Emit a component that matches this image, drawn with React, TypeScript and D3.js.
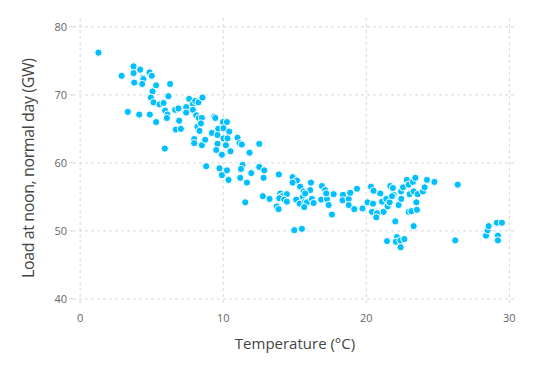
import React from "react";
import * as d3 from "d3";

const temperature: number[] = [
  1.28, 2.9, 3.73, 3.73, 3.78, 4.2, 4.38, 4.42, 4.34, 4.85, 5.01, 5.31, 5.06, 4.94, 5.13, 5.55, 6.29, 6.17, 5.83, 5.94,
  6.1, 6.06, 3.33, 4.13, 4.87, 5.31, 5.92, 6.64, 6.87, 6.92, 6.69, 7.04, 7.41, 7.41, 7.62, 7.88, 7.88, 8.04, 8.27, 8.55,
  8.11, 8.3, 8.51, 8.2, 8.44, 8.34, 7.97, 7.97, 8.51, 8.74, 9.21, 9.37, 9.45, 9.65, 9.6, 9.6, 9.51, 9.98, 10.26, 10.02,
  10.42, 10.02, 10.3, 10.19, 9.91, 10.51, 11.0, 11.14, 11.3, 11.84, 12.52, 8.81, 9.74, 10.26, 9.91, 10.37, 11.35, 11.24, 11.19, 11.96,
  11.66, 12.52, 12.87, 12.82, 13.89, 11.54, 12.77, 13.24, 13.99, 14.1, 14.45, 13.92, 14.27, 14.45, 13.75, 13.87, 14.85, 15.15, 14.85, 15.38,
  16.13, 15.62, 16.08, 15.1, 15.34, 15.57, 15.73, 15.85, 15.66, 16.2, 16.32, 16.9, 17.13, 16.85, 17.25, 17.37, 17.6, 17.72, 18.37, 18.34,
  18.77, 18.77, 18.88, 19.35, 19.16, 14.97, 15.5, 19.74, 20.09, 20.33, 20.51, 20.98, 20.47, 20.4, 20.75, 20.7, 21.1, 21.21, 21.4, 21.49,
  21.63, 21.68, 21.86, 21.91, 21.8, 22.26, 22.45, 22.43, 22.57, 22.84, 22.96, 23.03, 23.26, 23.43, 23.31, 23.59, 23.5, 22.96, 23.15, 23.54,
  23.96, 24.08, 24.24, 24.76, 26.39, 22.03, 23.31, 21.45, 22.14, 22.07, 22.38, 22.66, 22.4, 26.22, 28.37, 28.48, 28.55, 29.13, 29.48, 29.2,
  29.2, 15.73, 17.2,
];

const load: number[] = [
  76.2, 72.8, 74.2, 73.2, 71.8, 73.7, 72.5, 72.3, 71.6, 73.3, 72.8, 71.4, 70.5, 69.6, 68.9, 68.6, 71.6, 69.8, 68.8, 67.7,
  67.1, 66.6, 67.5, 67.1, 67.1, 66.0, 62.1, 67.8, 68.0, 66.2, 64.9, 65.0, 68.2, 67.4, 69.4, 68.7, 67.8, 69.1, 68.9, 69.6,
  67.0, 66.6, 66.6, 65.3, 65.8, 64.7, 63.5, 62.9, 62.6, 63.4, 64.4, 66.8, 66.6, 65.0, 64.1, 62.8, 61.9, 66.0, 66.0, 65.1,
  64.6, 63.6, 63.6, 62.6, 61.2, 61.7, 63.7, 62.9, 62.7, 61.5, 62.8, 59.5, 59.2, 58.9, 58.2, 57.5, 59.7, 59.1, 57.8, 58.5,
  57.1, 59.4, 58.9, 57.8, 58.3, 54.2, 55.1, 54.7, 55.5, 55.1, 55.4, 54.8, 54.6, 54.3, 53.6, 53.2, 57.9, 57.4, 57.1, 56.5,
  57.1, 55.8, 56.0, 54.6, 54.0, 55.0, 54.3, 54.2, 53.5, 54.7, 54.1, 56.6, 56.0, 54.6, 54.7, 53.8, 52.4, 55.4, 55.3, 54.5,
  54.7, 53.8, 55.6, 56.2, 53.2, 50.1, 50.3, 53.3, 54.2, 56.5, 55.9, 55.5, 54.0, 52.8, 52.6, 52.0, 54.3, 52.8, 54.7, 53.6,
  54.2, 56.6, 56.3, 55.3, 55.1, 53.8, 54.7, 55.8, 56.4, 57.5, 56.8, 55.4, 57.2, 57.8, 55.8, 55.4, 54.2, 52.8, 52.9, 53.1,
  55.8, 56.4, 57.5, 57.2, 56.8, 51.4, 50.7, 48.5, 49.1, 48.4, 48.6, 48.8, 47.6, 48.6, 49.3, 50.1, 50.7, 51.2, 51.2, 49.3,
  48.6, 55.5, 55.5,
];

const xTicks: number[] = [0, 10, 20, 30];
const yTicks: number[] = [40, 50, 60, 70, 80];

const W = 535;
const H = 378;

export default function App() {
  const x = d3.scaleLinear().domain([-0.5, 30.5]).range([73, 516.5]);
  const y = d3.scaleLinear().domain([39.4, 81.3]).range([303, 18]);
  const points = temperature.map((t, i) => ({ t, l: load[i] }));
  const gridColor = "#d6d6e4";
  const font = "'Open Sans', 'DejaVu Sans', sans-serif";

  return (
    <svg
      width={W}
      height={H}
      style={{ position: "absolute", left: 0, top: 0, background: "#fff" }}
      fontFamily={font}
    >
      {yTicks.map((v) => (
        <g key={"y" + v}>
          <line x1={73} x2={516.5} y1={y(v)} y2={y(v)} stroke={gridColor} strokeDasharray="3,3" strokeWidth={1} />
          <line x1={69} x2={73} y1={y(v)} y2={y(v)} stroke={gridColor} strokeWidth={1} />
          <text x={67} y={y(v)} dy="0.35em" textAnchor="end" fontSize={11} fill="#666">
            {v}
          </text>
        </g>
      ))}
      {xTicks.map((v) => (
        <g key={"x" + v}>
          <line x1={x(v)} x2={x(v)} y1={18} y2={303} stroke={gridColor} strokeDasharray="3,3" strokeWidth={1} />
          <text x={x(v)} y={318} dy="0.35em" textAnchor="middle" fontSize={11} fill="#666">
            {v}
          </text>
        </g>
      ))}
      {points.map((p, i) => (
        <circle key={i} cx={x(p.t)} cy={y(p.l)} r={3.6} fill="#00bfff" stroke="#fff" strokeWidth={1} />
      ))}
      <text x={295} y={344} dy="0.35em" textAnchor="middle" fontSize={15} fill="#444">
        Temperature (°C)
      </text>
      <text
        transform={`translate(28,168) rotate(-90)`}
        textAnchor="middle"
        dy="0.35em"
        fontSize={16}
        textLength={220}
        lengthAdjust="spacing"
        fill="#444"
      >
        Load at noon, normal day (GW)
      </text>
    </svg>
  );
}
